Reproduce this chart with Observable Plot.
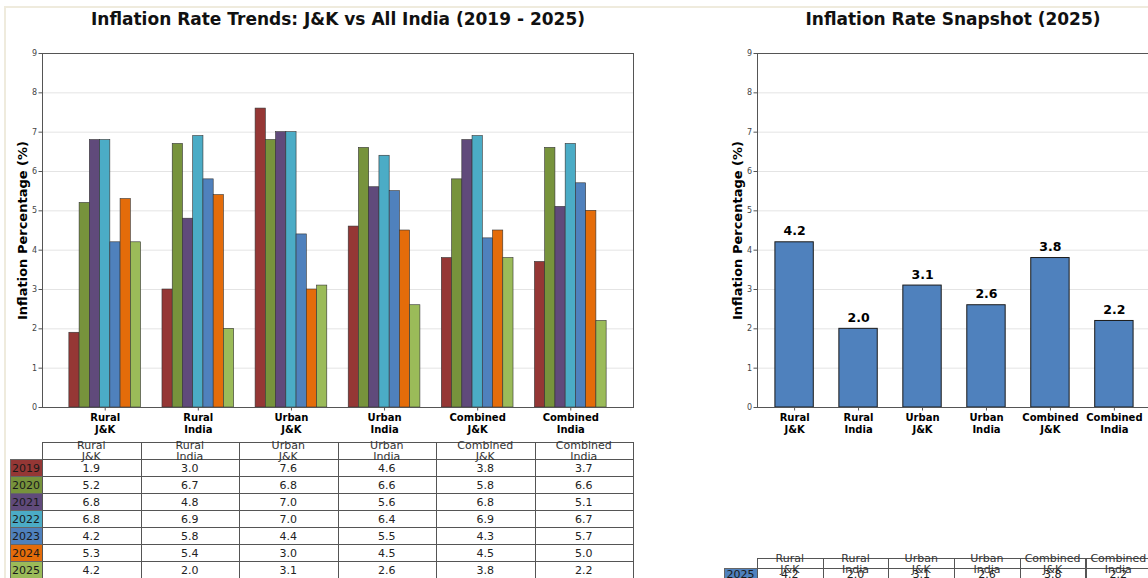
<!DOCTYPE html>
<html><head><meta charset="utf-8">
<script src="https://cdn.jsdelivr.net/npm/d3@7"></script>
<script src="https://cdn.jsdelivr.net/npm/@observablehq/plot@0.6"></script>
<style>
html,body{margin:0;padding:0;width:1148px;height:578px;overflow:hidden;background:#fff;font-family:"DejaVu Sans",sans-serif;}
#root{position:relative;width:1148px;height:578px;overflow:hidden;background:#fff;}
.frame{position:absolute;left:4px;top:6px;width:1300px;height:700px;border-left:2px solid #efebdd;border-top:2px solid #efebdd;box-sizing:border-box;}
.title{position:absolute;font-weight:bold;font-size:17px;line-height:1;white-space:nowrap;transform:translateX(-50%);color:#111;}
.chart{position:absolute;}
.chart svg{max-width:none !important;}
.cell{position:absolute;box-sizing:border-box;border:1px solid #555;}
.ctext{position:absolute;text-align:center;white-space:pre;transform:translateY(-50%);line-height:1;}
</style></head>
<body><div id="root"><div class="frame"></div></div>
<script>
// ---- data ----
const categories = ["Rural\nJ&K","Rural\nIndia","Urban\nJ&K","Urban\nIndia","Combined\nJ&K","Combined\nIndia"];
const years = ["2019","2020","2021","2022","2023","2024","2025"];
const yearColors = ["#953735","#77933C","#604A7B","#4BACC6","#4F81BD","#E46C0A","#9BBB59"];
const v2019 = [1.9,3.0,7.6,4.6,3.8,3.7];
const v2020 = [5.2,6.7,6.8,6.6,5.8,6.6];
const v2021 = [6.8,4.8,7.0,5.6,6.8,5.1];
const v2022 = [6.8,6.9,7.0,6.4,6.9,6.7];
const v2023 = [4.2,5.8,4.4,5.5,4.3,5.7];
const v2024 = [5.3,5.4,3.0,4.5,4.5,5.0];
const v2025 = [4.2,2.0,3.1,2.6,3.8,2.2];
const yTicks = [0,1,2,3,4,5,6,7,8,9];
const snapshotColor = "#4F81BD";
const titleLeft = "Inflation Rate Trends: J&K vs All India (2019 - 2025)";
const titleRight = "Inflation Rate Snapshot (2025)";
const yLabel = "Inflation Percentage (%)";

const series = [v2019,v2020,v2021,v2022,v2023,v2024,v2025];
const root = document.getElementById("root");

function addTitle(text, cx, top){
  const d = document.createElement("div");
  d.className = "title"; d.textContent = text;
  d.style.left = cx + "px"; d.style.top = top + "px";
  root.appendChild(d);
}
function place(svg, left, top, width){
  const w = document.createElement("div");
  w.className = "chart"; w.style.left = left + "px"; w.style.top = top + "px"; w.style.width = width + "px";
  svg.style.maxWidth = "none";
  w.appendChild(svg); root.appendChild(w);
}
const baseStyle = {fontFamily: "DejaVu Sans", background: "transparent", overflow: "visible"};

// ---- left grouped chart ----
const barW = 0.11;
const bars = [];
years.forEach((yr, yi) => series[yi].forEach((v, ci) => bars.push({yr, yi, ci, v})));

const leftChart = Plot.plot({
  width: 640, height: 400, marginTop: 13, marginBottom: 33, marginLeft: 42, marginRight: 7,
  style: baseStyle,
  x: {type: "linear", domain: [-0.6735, 5.6735]},
  y: {domain: [0, 9]},
  color: {domain: years, range: yearColors},
  marks: [
    Plot.gridY(yTicks, {stroke: "#e4e4e4", strokeOpacity: 1}),
    Plot.rectY(bars, {x1: d => d.ci + (d.yi - 3.5) * barW, x2: d => d.ci + (d.yi - 2.5) * barW,
      y1: 0, y2: "v", fill: "yr", stroke: "#333", strokeWidth: 0.6}),
    Plot.frame({stroke: "#555"}),
    Plot.axisY(yTicks, {tickSize: 3.5, tickPadding: 2, fontSize: 8, fill: "#444", stroke: "#555", label: null}),
    Plot.axisX(d3.range(categories.length), {tickSize: 3.5, tickPadding: 1.5, tickFormat: i => categories[i],
      fontSize: 10, fontWeight: "bold", fill: "#000", stroke: "#555", label: null, lineHeight: 1.17}),
    Plot.text([yLabel], {text: d => d, frameAnchor: "left", textAnchor: "middle", rotate: -90, dx: -20, fontSize: 13, fontWeight: "bold", fill: "#000"})
  ]
});
place(leftChart, 0, 40, 640);

// ---- right snapshot chart ----
const snap = v2025.map((v, i) => ({i, v}));
const rightChart = Plot.plot({
  width: 458, height: 400, marginTop: 13, marginBottom: 33, marginLeft: 57, marginRight: 7,
  style: baseStyle,
  x: {type: "linear", domain: [-0.58, 5.58]},
  y: {domain: [0, 9]},
  marks: [
    Plot.gridY(yTicks, {stroke: "#e4e4e4", strokeOpacity: 1}),
    Plot.rectY(snap, {x1: d => d.i - 0.3, x2: d => d.i + 0.3, y1: 0, y2: "v", fill: snapshotColor, stroke: "#1a1a1a", strokeWidth: 1}),
    Plot.text(snap, {x: "i", y: "v", text: d => d.v.toFixed(1), lineAnchor: "bottom", dy: -7, fontSize: 12.5, fontWeight: "bold", fill: "#000"}),
    Plot.frame({stroke: "#555"}),
    Plot.axisY(yTicks, {tickSize: 3.5, tickPadding: 2, fontSize: 8, fill: "#444", stroke: "#555", label: null}),
    Plot.axisX(d3.range(categories.length), {tickSize: 3.5, tickPadding: 1.5, tickFormat: i => categories[i],
      fontSize: 10, fontWeight: "bold", fill: "#000", stroke: "#555", label: null, lineHeight: 1.17}),
    Plot.text([yLabel], {text: d => d, frameAnchor: "left", textAnchor: "middle", rotate: -90, dx: -20, fontSize: 13, fontWeight: "bold", fill: "#000"})
  ]
});
place(rightChart, 700, 40, 458);

addTitle(titleLeft, 338, 11);
addTitle(titleRight, 953, 11);

// ---- tables ----
function drawTable(o){
  const {x0, y0, colW, headH, rowH, labW, columns, rows, fontSize} = o;
  const add = (cls, css, text) => {
    const d = document.createElement("div"); d.className = cls;
    Object.assign(d.style, css); if (text != null) d.textContent = text;
    root.appendChild(d); return d;
  };
  columns.forEach((c, j) => {
    add("cell", {left: (x0 + j*colW) + "px", top: y0 + "px", width: (colW + 1) + "px", height: (headH + 1) + "px"});
  });
  rows.forEach((r, k) => {
    const top = y0 + headH + k*rowH;
    add("cell", {left: (x0 - labW) + "px", top: top + "px", width: (labW + 1) + "px", height: (rowH + 1) + "px",
      background: r.color, borderColor: "#666"});
    r.values.forEach((v, j) => add("cell", {left: (x0 + j*colW) + "px", top: top + "px", width: (colW + 1) + "px", height: (rowH + 1) + "px"}));
  });
  columns.forEach((c, j) => {
    add("ctext", {left: (x0 + j*colW) + "px", width: colW + "px", top: (y0 + headH/2 + 0.5) + "px", fontSize: fontSize + "px", color: "#333"}, c);
  });
  rows.forEach((r, k) => {
    const cy = y0 + headH + k*rowH + rowH/2 + 0.5;
    add("ctext", {left: (x0 - labW) + "px", width: labW + "px", top: cy + "px", fontSize: fontSize + "px", color: "#1a1a1a"}, r.label);
    r.values.forEach((v, j) => add("ctext", {left: (x0 + j*colW) + "px", width: colW + "px", top: cy + "px", fontSize: fontSize + "px", color: "#222"}, v.toFixed(1)));
  });
}
drawTable({x0: 42, y0: 442, colW: 98.5, headH: 17, rowH: 17, labW: 32, fontSize: 11,
  columns: categories, rows: years.map((y, i) => ({label: y, color: yearColors[i], values: series[i]}))});
drawTable({x0: 757, y0: 558, colW: 65.7, headH: 10, rowH: 10, labW: 33, fontSize: 11,
  columns: categories, rows: [{label: "2025", color: snapshotColor, values: v2025}]});
</script></body></html>
